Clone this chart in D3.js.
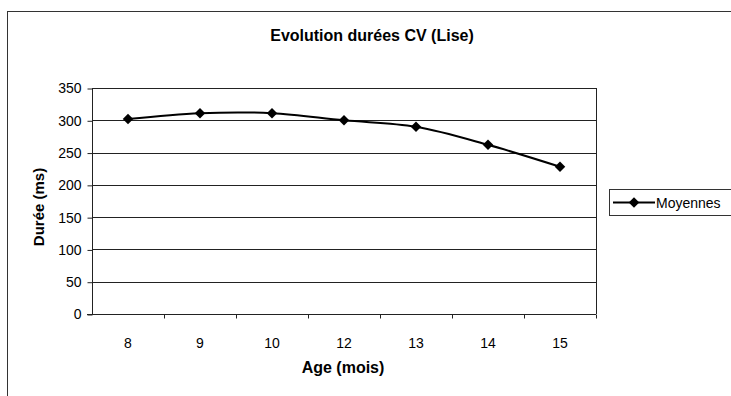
<!DOCTYPE html>
<html>
<head>
<meta charset="utf-8">
<script src="https://d3js.org/d3.v7.min.js"></script>
<style>
  body { margin: 0; background: #fff; }
  text { font-family: "Liberation Sans", Arial, sans-serif; fill: #000; }
</style>
</head>
<body>
<script>
// data
var ages = ["8", "9", "10", "12", "13", "14", "15"];
var moyennes = [302, 311, 311, 300, 290, 262, 228];
var yTicks = [0, 50, 100, 150, 200, 250, 300, 350];

var W = 731, H = 396;
var m = {left: 92, right: 596, top: 88, bottom: 314};

var svg = d3.select("body").append("svg")
    .attr("width", W).attr("height", H);

// outer frame (runs off right/bottom of picture)
svg.append("rect")
    .attr("x", 7.5).attr("y", 11.5).attr("width", 800).attr("height", 500)
    .attr("fill", "#fff").attr("stroke", "#333").attr("stroke-width", 1);

var x = d3.scaleBand().domain(ages).range([m.left, m.right]);
var y = d3.scaleLinear().domain([0, 350]).range([m.bottom, m.top]);

// gridlines
svg.selectAll(".grid").data(yTicks.slice(1)).enter().append("line")
    .attr("x1", m.left).attr("x2", m.right)
    .attr("y1", function(d) { return Math.round(y(d)) + 0.5; })
    .attr("y2", function(d) { return Math.round(y(d)) + 0.5; })
    .attr("stroke", "#222").attr("stroke-width", 1);

// right border of plot
svg.append("line")
    .attr("x1", m.right + 0.5).attr("x2", m.right + 0.5)
    .attr("y1", m.top).attr("y2", m.bottom)
    .attr("stroke", "#222");

// y axis
var yAxis = svg.append("g").attr("transform", "translate(" + (m.left + 0.5) + ",0.5)")
    .call(d3.axisLeft(y).tickValues(yTicks).tickSize(5).tickPadding(6));
yAxis.selectAll("text").style("font-size", "14px").attr("fill", "#000");
yAxis.selectAll("line,path").attr("stroke", "#222");
yAxis.select(".domain").attr("d", "M0," + m.top + "V" + m.bottom);

// x axis, ticks between categories
var xg = svg.append("g").attr("transform", "translate(0," + (m.bottom + 0.5) + ")");
xg.append("line").attr("x1", m.left - 5).attr("x2", m.right)
    .attr("stroke", "#222");
xg.selectAll(".tk").data(ages).enter().append("line")
    .attr("x1", function(d) { return Math.round(x(d) + x.bandwidth()) + 0.5; })
    .attr("x2", function(d) { return Math.round(x(d) + x.bandwidth()) + 0.5; })
    .attr("y1", 0).attr("y2", 4).attr("stroke", "#222");
xg.selectAll(".lb").data(ages).enter().append("text")
    .attr("x", function(d) { return x(d) + x.bandwidth() / 2; })
    .attr("y", 33)
    .attr("text-anchor", "middle")
    .style("font-size", "14px")
    .text(function(d) { return d; });

// line
var cx = function(d, i) { return x(ages[i]) + x.bandwidth() / 2; };
var line = d3.line().x(cx).y(function(d) { return y(d); })
    .curve(d3.curveCatmullRom.alpha(0));
svg.append("path").datum(moyennes)
    .attr("d", line).attr("fill", "none")
    .attr("stroke", "#000").attr("stroke-width", 2);

var diamond = d3.symbol().type(d3.symbolDiamond2).size(70);
svg.selectAll(".pt").data(moyennes).enter().append("path")
    .attr("d", diamond)
    .attr("transform", function(d, i) { return "translate(" + cx(d, i) + "," + y(d) + ")"; })
    .attr("fill", "#000");

// titles
svg.append("text").attr("x", 372).attr("y", 41)
    .attr("text-anchor", "middle")
    .style("font-size", "16px").style("font-weight", "bold")
    .text("Evolution durées CV (Lise)");

svg.append("text").attr("x", 343).attr("y", 373)
    .attr("text-anchor", "middle")
    .style("font-size", "16px").style("font-weight", "bold")
    .text("Age (mois)");

svg.append("text")
    .attr("transform", "translate(44,207) rotate(-90)")
    .attr("text-anchor", "middle")
    .style("font-size", "15px").style("font-weight", "bold")
    .text("Durée (ms)");

// legend
var lg = svg.append("g");
lg.append("rect").attr("x", 609.5).attr("y", 189.5).attr("width", 140).attr("height", 26)
    .attr("fill", "#fff").attr("stroke", "#333");
lg.append("line").attr("x1", 613).attr("x2", 655).attr("y1", 202.5).attr("y2", 202.5)
    .attr("stroke", "#000").attr("stroke-width", 2);
lg.append("path").attr("d", diamond).attr("transform", "translate(634,202.5)").attr("fill", "#000");
lg.append("text").attr("x", 656).attr("y", 207.5).style("font-size", "14px").text("Moyennes");
</script>
</body>
</html>
